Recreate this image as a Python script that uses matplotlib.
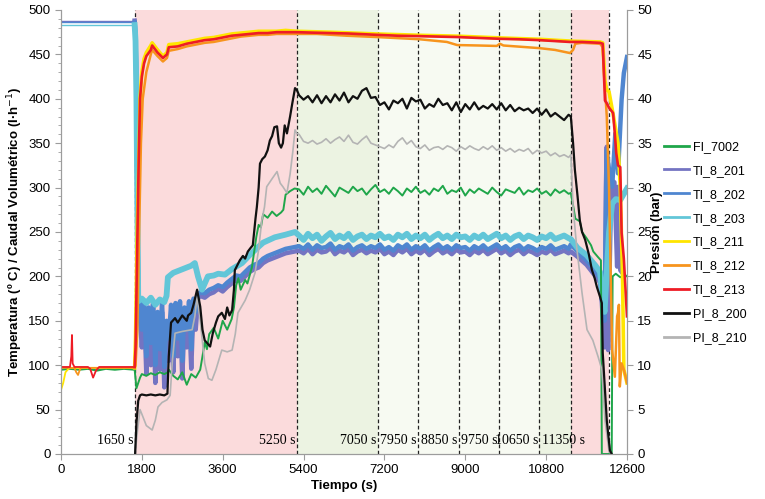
import matplotlib.pyplot as plt
from matplotlib.ticker import MultipleLocator
from matplotlib.lines import Line2D

plt.rcParams['font.family'] = ['Liberation Sans', 'DejaVu Sans']

# ---- test phases -------------------------------------------------------
phase_edges = [1650, 5250, 7050, 10650, 11350, 12200]
phase_colors = ['#FBDBDC', '#ECF3E2', '#F7FAF2', '#ECF3E2', '#FBDBDC']
marker_t = [1650, 5250, 7050, 7950, 8850, 9750, 10650, 11350, 12200]
marker_lbl = ['1650 s', '5250 s', '7050 s', '7950 s', '8850 s', '9750 s', '10650 s', '11350 s']

# steady phase sampling times (s)
t_mid = list(range(5300, 11400, 100))

# ---- FI_7002 (l/h) -----------------------------------------------------
fi_t0 = [0, 200, 400, 600, 800, 1000, 1200, 1400, 1640, 1680, 1720, 1760, 1800, 1900, 2000, 2100, 2200, 2300,
         2380, 2400, 2500, 2600, 2700, 2800, 2900, 3000, 3100, 3150, 3200, 3250, 3300, 3400, 3500, 3600, 3700, 3800,
         3850, 3900, 3950, 4000, 4100, 4150, 4250, 4350, 4400, 4450, 4500, 4600, 4700, 4800, 4900, 4950, 5000, 5100, 5200]
fi_v0 = [95, 96, 95, 96, 94, 96, 95, 96, 95, 74, 80, 86, 90, 88, 91, 89, 92, 90,
         92, 95, 88, 84, 92, 78, 90, 86, 95, 110, 126, 118, 135, 142, 130, 150, 140, 152,
         165, 190, 198, 185, 196, 192, 210, 245, 258, 255, 270, 266, 273, 268, 272, 275, 292, 296, 299]
fi_mid = [298, 292, 301, 295, 299, 293, 302, 296, 290, 300, 297, 294, 301, 296, 299, 292, 298, 303, 295, 298,
          293, 300, 296, 291, 299, 295, 301, 294, 297, 292, 299, 296, 302, 293, 297, 295, 300, 291, 298, 294,
          299, 296, 293, 300, 295, 291, 298, 296, 294, 300, 292, 297, 295, 299, 293, 296, 291, 298, 294, 297, 293]
fi_t1 = [11350, 11400, 11450, 11550, 11600, 11700, 11800, 11850, 11950, 12020, 12040, 12260, 12280, 12350, 12450, 12550, 12600]
fi_v1 = [294, 280, 265, 262, 250, 243, 235, 228, 222, 218, 0, 0, 200, 203, 199, 202, 200]

# ---- TI_8_201 / TI_8_202 (ºC) -------------------------------------------
ti201_t0 = [0, 1640, 1660, 1680, 1700, 1720,
            1750, 1800, 1850, 1900, 1950, 2000, 2050, 2100, 2150, 2200, 2250, 2300, 2350, 2400, 2450, 2500, 2550,
            2600, 2650, 2700, 2750, 2800, 2850, 2900, 2950, 3000, 3050, 3100,
            3200, 3300, 3400, 3500, 3600, 3700, 3800, 3900, 4000, 4100, 4200, 4300, 4400, 4500, 4600, 4700, 4800,
            4900, 5000, 5100, 5200]
ti201_v0 = [488, 488, 470, 420, 300, 175,
            160, 120, 165, 90, 150, 100, 168, 80, 140, 95, 160, 75, 130, 105, 150, 92, 155,
            110, 160, 85, 150, 120, 160, 96, 165, 140, 175, 178,
            176, 180, 182, 186, 183, 188, 192, 196, 195, 200, 205, 208, 210, 215, 218, 220, 222,
            224, 226, 227, 228]
ti201_mid = [229, 226, 231, 225, 230, 227, 228, 232, 225, 229, 227, 231, 224, 228, 230, 226, 229, 227, 231, 225,
             228, 224, 230, 227, 231, 225, 229, 226, 230, 224, 228, 231, 226, 229, 225, 230, 227, 228, 224, 229,
             226, 230, 225, 228, 231, 226, 229, 224, 228, 230, 225, 229, 227, 224, 228, 226, 230, 225, 227, 229, 226]
ti201_t1 = [11350, 11500, 11700, 11900, 12000, 12040, 12100, 12130, 12150, 12180, 12230, 12260, 12320, 12380, 12410, 12450, 12480]
ti201_v1 = [228, 222, 213, 200, 193, 170, 120, 300, 346, 117, 250, 308, 306, 211, 301, 207, 205]

ti202_v0 = [486, 486, 468, 410, 290, 172,
            170, 140, 172, 110, 165, 125, 170, 100, 160, 118, 172, 98, 150, 130, 168, 110, 170,
            130, 172, 105, 165, 140, 172, 118, 175, 160, 180, 182,
            181, 185, 187, 190, 188, 193, 197, 201, 200, 205, 210, 213, 215, 220, 223, 225, 227,
            229, 231, 232, 233]
ti202_mid = [234, 231, 236, 230, 235, 232, 233, 237, 230, 234, 232, 236, 229, 233, 235, 231, 234, 232, 236, 230,
             233, 229, 235, 232, 236, 230, 234, 231, 235, 229, 233, 236, 231, 234, 230, 235, 232, 233, 229, 234,
             231, 235, 230, 233, 236, 231, 234, 229, 233, 235, 230, 234, 232, 229, 233, 231, 235, 230, 232, 234, 231]
ti202_t1 = [11350, 11500, 11700, 11900, 12000, 12040, 12100, 12150, 12200, 12270, 12340, 12400, 12480, 12530, 12600]
ti202_v1 = [236, 228, 218, 206, 198, 175, 150, 342, 320, 301, 361, 316, 399, 429, 447]

# ---- TI_8_203 (ºC) -----------------------------------------------------
ti203_t0 = [0, 1640, 1660, 1680, 1700, 1720, 1800, 1900, 2000, 2100, 2200, 2300, 2350,
            2380, 2500, 2600, 2700, 2800, 2900, 2980, 3050, 3140, 3270, 3400, 3500, 3650, 3800,
            4030, 4200, 4390, 4500, 4760, 5000, 5210]
ti203_v0 = [483, 483, 465, 400, 280, 172, 175, 170, 176, 168, 174, 171, 178,
            199, 204, 206, 208, 210, 212, 215, 200, 185, 200, 201, 203, 202, 208,
            215, 224, 233, 238, 244, 247, 250]
ti203_mid = [246, 241, 248, 243, 247, 240, 245, 249, 242, 246, 243, 248, 241, 245, 247, 242, 246, 244, 248, 243,
             245, 241, 247, 244, 248, 242, 246, 243, 247, 241, 245, 248, 243, 246, 242, 247, 244, 245, 241, 246,
             243, 247, 242, 245, 248, 243, 246, 241, 245, 247, 242, 246, 244, 241, 245, 243, 247, 242, 244, 246, 243]
ti203_t1 = [11350, 11500, 11700, 11900, 12000, 12040, 12100, 12200, 12270, 12350, 12450, 12600]
ti203_v1 = [242, 232, 224, 212, 205, 185, 160, 250, 282, 287, 286, 299]

# ---- TI_8_211 / 212 / 213 (ºC) -----------------------------------------
ti211_t = [0, 50, 100, 150, 200, 1640, 1660, 1700, 1730, 1760, 1800, 1850, 1900,
           2000, 2030, 2150, 2270, 2360, 2400, 2600, 2800, 3000, 3200, 3400, 3600, 3800, 4000,
           4200, 4400, 4600, 4800, 5000, 5250, 6000, 7035, 8000, 8840, 9800, 10660, 11330,
           12000, 12060, 12110, 12150, 12200, 12300, 12400, 12450, 12500, 12530, 12600]
ti211_v = [72, 80, 92, 95, 97, 97, 130, 260, 320, 400, 430, 445, 452,
           460, 463, 455, 448, 452, 461, 462, 464, 466, 468, 469, 471, 473, 474,
           475, 476, 476, 476, 477, 476, 475, 473, 471.5, 470.5, 468.5, 467, 465,
           464, 463, 420, 410, 408, 380, 350, 300, 200, 95, 80]

ti212_t = [0, 300, 340, 380, 420, 450, 1640, 1660, 1700, 1740, 1780, 1820, 1900,
           2000, 2030, 2150, 2270, 2360, 2400, 2600, 2800, 3000, 3200, 3400, 3600, 3800, 4000,
           4200, 4400, 4600, 4800, 5000, 5250, 5700, 6360, 7035, 7990, 8590, 8820,
           9300, 9700, 9770, 9850, 10660, 11000, 11330, 11400, 11450, 11600, 12000, 12060, 12100,
           12150, 12200, 12270, 12330, 12380, 12400, 12420, 12440, 12480, 12530, 12600]
ti212_v = [97, 97, 92, 89, 95, 97, 97, 100, 140, 250, 350, 400, 430,
           450, 455, 448, 442, 446, 454, 456, 459, 461, 463, 464, 466, 468, 470,
           471, 472, 472, 473, 473, 473, 473, 471, 469.5, 467, 464, 460.5,
           460, 459.5, 462, 460, 457, 455, 451.5, 455, 462, 463, 462, 458, 420,
           380, 300, 117, 87, 155, 159, 168, 76, 102, 95, 80]

ti213_t = [0, 200, 230, 245, 260, 300, 600, 650, 715, 780, 850, 1640, 1660, 1700, 1730, 1760, 1800, 1850, 1900,
           2000, 2030, 2150, 2270, 2360, 2400, 2600, 2800, 3000, 3200, 3400, 3600, 3800, 4000,
           4200, 4400, 4600, 4800, 5000, 5250, 5600, 6000, 6400, 7035, 7500, 8000,
           8840, 9300, 9800, 10200, 10660, 11000, 11330, 11600, 12000, 12060, 12110, 12150, 12200,
           12290, 12330, 12360, 12400, 12450, 12480, 12530, 12600]
ti213_v = [98, 98, 110, 134, 102, 98, 98, 96, 86, 94, 98, 98, 120, 240, 330, 400, 425, 440, 448,
           455, 460, 452, 446, 450, 458, 459, 462, 464, 466, 467, 469, 471, 472,
           473, 474, 474, 475, 475, 475, 474.5, 474, 473.5, 472, 471, 470.5,
           469.5, 468.5, 467.5, 467, 466, 465, 464, 464, 463, 462, 398, 395, 390,
           384, 360, 339, 325, 323, 249, 220, 155]

# ---- PI_8_200 / PI_8_210 (bar) -----------------------------------------
pi200_t0 = [1650, 1680, 1720, 1760, 1800, 1900, 2000, 2100, 2200, 2300, 2370, 2400, 2450, 2540, 2600,
            2700, 2800, 2830, 2900, 2950, 3030, 3100, 3150, 3200, 3320, 3380, 3450, 3500, 3580, 3650,
            3700, 3750, 3810, 3850, 3870, 3920, 3980, 4050, 4100, 4160, 4220, 4270, 4300, 4330, 4360,
            4400, 4430, 4480, 4540, 4600, 4650, 4700, 4750, 4810, 4850, 4900, 4940, 4980, 5030, 5100,
            5150, 5210, 5250]
pi200_v0 = [0, 3.5, 6.0, 6.6, 6.7, 6.6, 6.7, 6.6, 6.7, 6.6, 6.8, 11.0, 14.8, 15.3, 14.8,
            15.6, 15.0, 15.6, 15.9, 16.8, 18.5, 16.6, 14.0, 12.8, 12.1, 13.6, 14.8, 15.5, 15.9, 15.2,
            16.5, 15.6, 16.2, 18.5, 20.7, 21.2, 21.8, 22.3, 22.0, 22.8, 23.2, 23.5, 25.0, 26.5, 27.8,
            30.0, 32.7, 33.2, 33.5, 34.2, 35.3, 35.8, 36.8, 36.9, 35.0, 34.5, 35.0, 37.0, 36.1, 38.0,
            39.5, 41.2, 41.0]
pi200_mid = [40.4, 39.9, 40.3, 39.6, 40.4, 39.5, 40.3, 39.6, 40.5, 39.8,
             40.7, 39.6, 40.3, 40.0, 40.9, 41.2, 40.1, 40.2, 39.3, 39.6,
             38.8, 39.8, 39.5, 40.0, 38.9, 40.1, 39.7, 39.9, 38.9, 39.4,
             39.1, 40.0, 39.3, 39.5, 38.7, 39.6, 38.5, 39.4, 38.8, 39.6,
             38.8, 39.2, 38.9, 39.4, 38.8, 39.5, 38.7, 39.3, 38.6, 39.0,
             38.7, 38.9, 38.4, 38.9, 38.2, 38.8, 38.0, 38.4, 38.0, 37.6, 38.2]
pi200_t1 = [11350, 11400, 11440, 11500, 11550, 11600, 11670, 11750, 11820, 11880, 11930, 12000, 12040, 12060, 12150, 12220, 12260]
pi200_v1 = [38.0, 35.0, 32.0, 29.0, 26.3, 25.0, 24.1, 22.5, 20.7, 19.8, 18.8, 17.7, 17.0, 11.4, 3.8, 0.4, 0]

pi210_t0 = [1650, 1700, 1760, 1800, 1900, 2030, 2100, 2160, 2250, 2360, 2430, 2480, 2540, 2700, 2920,
            2980, 3030, 3100, 3200, 3280, 3360, 3450, 3580, 3700, 3810, 3880, 3940, 4100, 4200, 4320,
            4400, 4470, 4530, 4580, 4700, 4810, 4880, 4940, 5030, 5100, 5160, 5210, 5250]
pi210_v0 = [0, 2.5, 5.0, 4.5, 3.2, 2.7, 3.8, 5.3, 5.8, 6.1, 6.6, 10.5, 13.6, 13.8, 14.0,
            15.5, 17.7, 15.0, 10.2, 8.5, 8.3, 9.5, 11.7, 11.5, 11.7, 13.5, 15.9, 17.3, 18.5, 20.4,
            23.0, 26.3, 27.8, 30.1, 31.0, 31.8, 30.5, 30.1, 29.4, 31.5, 34.0, 36.5, 36.1]
pi210_mid = [36.0, 35.2, 35.0, 35.3, 34.9, 35.1, 35.5, 35.0, 35.4, 35.7,
             35.2, 35.9, 35.1, 34.9, 35.4, 35.8, 35.0, 34.8, 34.6, 34.4,
             34.8, 34.5, 35.2, 35.6, 34.9, 35.3, 34.6, 34.4, 34.8, 34.2,
             34.5, 34.6, 34.3, 34.7, 34.5, 34.1, 34.6, 34.3, 34.7, 34.4,
             34.2, 34.6, 34.3, 34.7, 34.2, 34.5, 34.1, 34.4, 34.0, 34.3,
             34.1, 34.4, 33.8, 34.2, 33.9, 34.1, 33.6, 33.9, 33.5, 33.7, 33.4]
pi210_t1 = [11350, 11400, 11480, 11600, 11710, 11840, 11960, 12040, 12110, 12200, 12250]
pi210_v1 = [33.7, 27.8, 23.3, 18.1, 14.0, 12.8, 10.9, 9.5, 3.8, 0.3, 0]

colors = {'FI_7002': '#1FA64A', 'TI_8_201': '#7474C2', 'TI_8_202': '#4F86D0', 'TI_8_203': '#62C6D8',
          'TI_8_211': '#FFE500', 'TI_8_212': '#F7941D', 'TI_8_213': '#EE1C25',
          'PI_8_200': '#111111', 'PI_8_210': '#B4B4B4'}


def draw(a, t, v, name, lw_run, lw_pre=1.0):
    # thin trace while the plant idles, heavier (noisy) trace once the run starts
    k = next(i for i, x in enumerate(t) if x >= 1640)
    if k > 0:
        a.plot(t[:k + 1], v[:k + 1], color=colors[name], lw=lw_pre, zorder=2)
    a.plot(t[k:], v[k:], color=colors[name], lw=lw_run, zorder=2)


fig = plt.figure(figsize=(7.65, 4.99), dpi=100)
ax = fig.add_axes([0.0797, 0.0902, 0.7399, 0.8898])
ax2 = ax.twinx()

for i in range(len(phase_colors)):
    ax.axvspan(phase_edges[i], phase_edges[i + 1], color=phase_colors[i], lw=0, zorder=0)
for t in marker_t:
    ax.axvline(t, color='#222222', lw=0.9, ls=(0, (3, 2)), zorder=1)
for t, s in zip(marker_t[:7], marker_lbl[:7]):
    ax.text(t - 25, 15, s, ha='right', va='center', fontsize=10, family='Liberation Serif', zorder=3)
ax.text(10700, 15, marker_lbl[7], ha='left', va='center', fontsize=10, family='Liberation Serif', zorder=3)

draw(ax, ti201_t0 + t_mid + ti201_t1, ti201_v0 + ti201_mid + ti201_v1, 'TI_8_201', 3.2)
draw(ax, ti201_t0 + t_mid + ti202_t1, ti202_v0 + ti202_mid + ti202_v1, 'TI_8_202', 3.2)
draw(ax, ti203_t0 + t_mid + ti203_t1, ti203_v0 + ti203_mid + ti203_v1, 'TI_8_203', 4.2)
draw(ax, fi_t0 + t_mid + fi_t1, fi_v0 + fi_mid + fi_v1, 'FI_7002', 1.4, 1.6)
draw(ax, ti211_t, ti211_v, 'TI_8_211', 2.6, 1.3)
draw(ax, ti212_t, ti212_v, 'TI_8_212', 1.8, 1.3)
draw(ax, ti213_t, ti213_v, 'TI_8_213', 1.9, 1.3)

ax2.plot(pi210_t0 + t_mid + pi210_t1, pi210_v0 + pi210_mid + pi210_v1, color=colors['PI_8_210'], lw=1.2)
ax2.plot(pi200_t0 + t_mid + pi200_t1, pi200_v0 + pi200_mid + pi200_v1, color=colors['PI_8_200'], lw=1.6)

ax.set_xlim(0, 12600)
ax.set_ylim(0, 500)
ax2.set_ylim(0, 50)
ax.set_xticks(range(0, 12601, 1800))
ax.yaxis.set_major_locator(MultipleLocator(50))
ax.yaxis.set_minor_locator(MultipleLocator(10))
ax2.yaxis.set_major_locator(MultipleLocator(5))

for a in (ax, ax2):
    a.spines['top'].set_visible(False)
    for s in ('left', 'right', 'bottom'):
        a.spines[s].set_color('#9C9C9C')
    a.tick_params(direction='out', length=4, color='#9C9C9C', labelsize=9.5)
ax.tick_params(which='minor', length=2.5, color='#9C9C9C')

ax.set_xlabel('Tiempo (s)', fontweight='bold', fontsize=9.5)
ax.xaxis.set_label_coords(0.5, -0.058)
ax.set_ylabel('Temperatura (º C) / Caudal Volumétrico (l·h$^{-1}$)', fontweight='bold', fontsize=9.5)
ax.yaxis.set_label_coords(-0.064, 0.5)
ax2.set_ylabel('Presión (bar)', fontweight='bold', fontsize=9.5)
ax2.yaxis.set_label_coords(1.043, 0.5)

handles = [Line2D([], [], color=c, lw=2) for c in colors.values()]
fig.legend(handles, list(colors.keys()), loc='upper left', bbox_to_anchor=(0.853, 0.74),
           frameon=False, fontsize=9, labelspacing=0.95, handlelength=2.0, handletextpad=0.3)

fig.savefig('out.png', dpi=100)
